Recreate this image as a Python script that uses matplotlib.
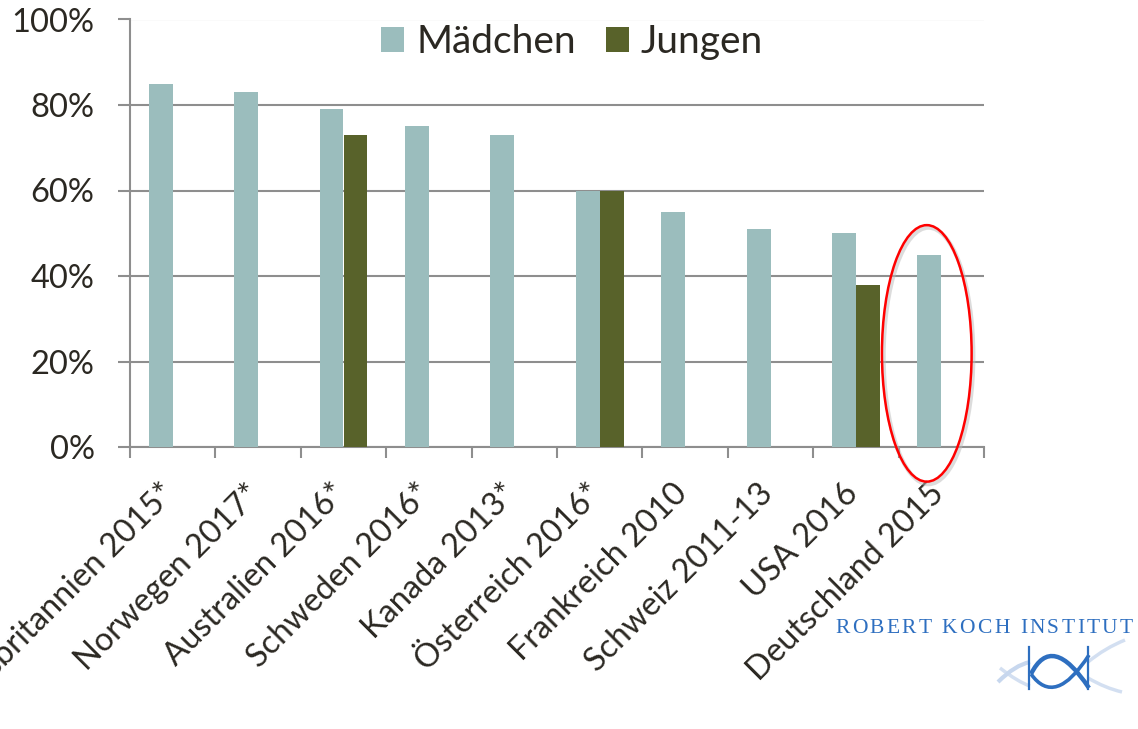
import numpy as np
import matplotlib
matplotlib.use("Agg")
import matplotlib.pyplot as plt
from matplotlib.patches import Ellipse, PathPatch
from matplotlib.path import Path
from matplotlib.font_manager import FontProperties
from matplotlib.transforms import ScaledTranslation

# ---------------- data ----------------
categories = ["Großbritannien 2015*", "Norwegen 2017*", "Australien 2016*",
              "Schweden 2016*", "Kanada 2013*", "Österreich 2016*",
              "Frankreich 2010", "Schweiz 2011-13", "USA 2016", "Deutschland 2015"]
maedchen = [85, 83, 79, 75, 73, 60, 55, 51, 50, 45]
jungen = [None, None, 73, None, None, 60, None, None, 38, None]
series_names = ["Mädchen", "Jungen"]
yticks = [0, 20, 40, 60, 80, 100]
highlight = "Deutschland 2015"
logo_text = "ROBERT KOCH INSTITUT"

# ---------------- style ----------------
W, H = 1138, 729
C_M = "#9BBDBD"
C_J = "#58622A"
GRID = "#8E8E8E"
TXT = "#2B2822"
FONT = "Lato"
plt.rcParams["font.family"] = [FONT, "DejaVu Sans"]

fig = plt.figure(figsize=(W / 100, H / 100), dpi=100)
ax = fig.add_axes([130 / W, 1 - 447 / H, (984 - 130) / W, (447 - 19.5) / H])

x = np.arange(len(categories))
bw = 0.28
xm = [xi - bw / 2 for xi in x]
ax.bar(xm, maedchen, width=bw, color=C_M, zorder=3, label=series_names[0])
jx = [xi + bw / 2 for xi, v in zip(x, jungen) if v is not None]
jv = [v for v in jungen if v is not None]
ax.bar(jx, jv, width=bw, color=C_J, zorder=3, label=series_names[1])

ax.set_xlim(-0.5, len(categories) - 0.5)
ax.set_ylim(0, 100)
ax.set_yticks(yticks)
ax.set_yticklabels([f"{v}%" for v in yticks])
ax.yaxis.grid(True, color=GRID, lw=1.5, zorder=0)
ax.set_axisbelow(True)

for s in ["top", "right"]:
    ax.spines[s].set_visible(False)
for s in ["left", "bottom"]:
    ax.spines[s].set_color(GRID)
    ax.spines[s].set_linewidth(1.5)

ax.tick_params(axis="y", length=8.5, width=1.5, color=GRID, labelsize=23.5,
               labelcolor=TXT, pad=17)
ax.set_xticks(x)
ax.set_xticks(np.arange(-0.5, len(categories)), minor=True)
ax.set_xticklabels(categories, rotation=45, ha="right", va="top",
                   rotation_mode="anchor")
ax.tick_params(axis="x", which="major", length=0, labelsize=23.5,
               labelcolor=TXT, pad=21)
ax.tick_params(axis="x", which="minor", length=8, width=1.5, color=GRID)
shift = ScaledTranslation(-13 / 100, -2 / 100, fig.dpi_scale_trans)
for lab in ax.get_xticklabels():
    lab.set_transform(lab.get_transform() + shift)

leg = ax.legend(loc="center", bbox_to_anchor=((572 - 130) / 854, 1 - (42 - 19.5) / 427.5),
                ncol=2, frameon=False, fontsize=28, handlelength=0.6,
                handleheight=0.6, columnspacing=0.77, handletextpad=0.3,
                borderaxespad=0)
for t in leg.get_texts():
    t.set_color(TXT)

# highlight ellipse around Deutschland
hi = categories.index(highlight)
hv = maedchen[hi]
cx = hi - bw / 2 - 0.03
cy = hv / 2 - 0.6
shadow = Ellipse((cx + 0.02, cy - 0.6), 1.05, 60, fill=False,
                 ec="#BBBBBB", lw=3.0, alpha=0.5, clip_on=False, zorder=4)
ax.add_patch(shadow)
ell = Ellipse((cx, cy), 1.05, 60, fill=False, ec="#FF0000", lw=1.8,
              clip_on=False, zorder=5)
ax.add_patch(ell)

# ---------------- logo ----------------
def px(xp, yp):
    return (xp / W, 1 - yp / H)

BLUE = "#2E6FC0"
prop = FontProperties(family="Liberation Serif", size=15.5)
fig.canvas.draw()
rend = fig.canvas.get_renderer()
widths = []
for ch in logo_text:
    w, h, d = rend.get_text_width_height_descent(ch, prop, ismath=False)
    widths.append(w)
x0, x1 = 835, 1133
track = (x1 - x0 - sum(widths)) / (len(logo_text) - 1)
xc = x0
for ch, w in zip(logo_text, widths):
    fig.text(*px(xc, 633), ch, fontproperties=prop, color=BLUE,
             ha="left", va="baseline")
    xc += w + track

def curve(pts, codes, **kw):
    verts = [px(*p) for p in pts]
    patch = PathPatch(Path(verts, codes), fill=False, transform=fig.transFigure,
                      **kw)
    fig.add_artist(patch)

C3 = Path.CURVE3
# faded outer strokes
curve([(998, 682), (1015, 665), (1030, 662)], [Path.MOVETO, C3, C3],
      ec="#B9CDEA", lw=3, alpha=0.8)
curve([(1000, 668), (1018, 682), (1030, 686)], [Path.MOVETO, C3, C3],
      ec="#C8D8EE", lw=2.5, alpha=0.8)
curve([(1088, 662), (1105, 648), (1125, 640)], [Path.MOVETO, C3, C3],
      ec="#C8D8EE", lw=2.5, alpha=0.8)
curve([(1088, 678), (1105, 688), (1122, 692)], [Path.MOVETO, C3, C3],
      ec="#C8D8EE", lw=2.5, alpha=0.8)
# vertical bars
for xv in (1029, 1088):
    fig.add_artist(plt.Line2D([px(xv, 0)[0]] * 2, [px(0, 647)[1], px(0, 689)[1]],
                              color=BLUE, lw=1.6, transform=fig.transFigure))
# fish body
curve([(1031, 674), (1052, 632), (1089, 688)], [Path.MOVETO, C3, C3],
      ec=BLUE, lw=3.2)
curve([(1031, 674), (1055, 708), (1089, 655)], [Path.MOVETO, C3, C3],
      ec=BLUE, lw=2.6)

fig.savefig("out.png", dpi=100)
